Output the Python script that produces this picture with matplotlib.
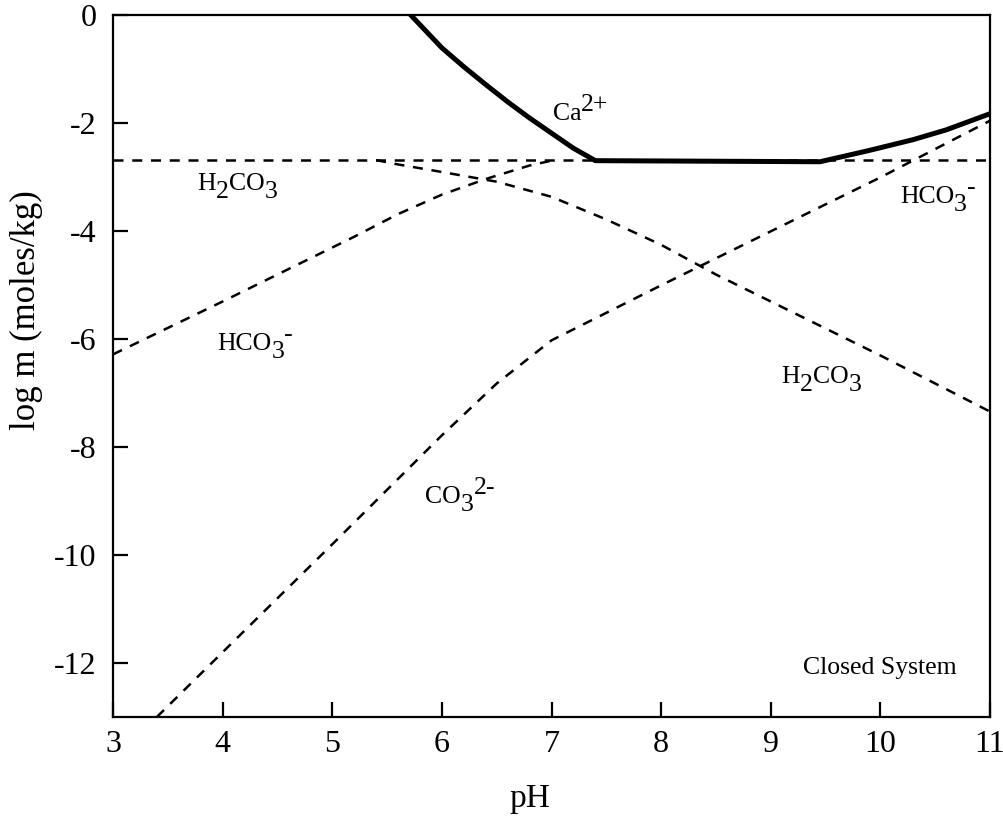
import matplotlib
matplotlib.use("Agg")
import matplotlib.pyplot as plt

plt.rcParams['font.family'] = ['Liberation Serif', 'DejaVu Serif']

# ---- data ----
ph_total = [3.0, 11.0]
total_c = [-2.68, -2.68]

ph_ca = [5.72, 6.0, 6.2, 6.4, 6.6, 6.8, 7.0, 7.2, 7.4, 9.45, 9.9, 10.3, 10.6, 11.0]
log_ca = [0.0, -0.6, -0.95, -1.28, -1.6, -1.9, -2.18, -2.46, -2.69, -2.71, -2.5, -2.3, -2.12, -1.82]

ph_h2co3 = [5.4, 5.6, 6.0, 6.5, 7.0, 7.5, 8.0, 8.5, 9.0, 9.5, 10.0, 10.5, 11.0]
log_h2co3 = [-2.68, -2.76, -2.9, -3.08, -3.36, -3.78, -4.25, -4.8, -5.3, -5.8, -6.3, -6.82, -7.34]

ph_hco3 = [3.0, 4.0, 4.7, 5.2, 5.6, 6.0, 6.4, 6.8, 7.0]
log_hco3 = [-6.28, -5.3, -4.6, -4.1, -3.68, -3.32, -3.03, -2.78, -2.69]

ph_co3 = [3.4, 4.0, 5.0, 6.0, 6.5, 7.0, 8.0, 9.0, 10.0, 11.0]
log_co3 = [-13.0, -11.8, -9.8, -7.78, -6.82, -6.02, -5.0, -4.0, -3.0, -1.95]

xticks = [3, 4, 5, 6, 7, 8, 9, 10, 11]
yticks = [0, -2, -4, -6, -8, -10, -12]

# labels: (x, y, pieces[(text, shift_px)])
labels = [
    (7.01, -1.94, [("Ca", 0), ("2+", 9)]),
    (3.77, -3.23, [("H", 0), ("2", -8), ("CO", 0), ("3", -8)]),
    (3.95, -6.19, [("HCO", 0), ("3", -8), ("-", 9)]),
    (10.18, -3.47, [("HCO", 0), ("3", -8), ("-", 9)]),
    (9.10, -6.81, [("H", 0), ("2", -8), ("CO", 0), ("3", -8)]),
    (5.85, -9.03, [("CO", 0), ("3", -8), ("2-", 9)]),
    (9.29, -12.21, [("Closed System", 0)]),
]

fig = plt.figure(figsize=(10.04, 8.18), dpi=100)
ax = fig.add_axes([113 / 1004, 1 - 717 / 818, (990 - 113) / 1004, (717 - 15.5) / 818])

dash = (0, (4, 3.5))
dlw = 1.8
ax.plot(ph_total, total_c, color='black', lw=dlw, linestyle=dash)
ax.plot(ph_h2co3, log_h2co3, color='black', lw=dlw, linestyle=dash)
ax.plot(ph_hco3, log_hco3, color='black', lw=dlw, linestyle=dash)
ax.plot(ph_co3, log_co3, color='black', lw=dlw, linestyle=dash)
ax.plot(ph_ca, log_ca, color='black', lw=3.6, solid_joinstyle='round')

ax.set_xlim(3, 11)
ax.set_ylim(-13, 0)
ax.set_xticks(xticks)
ax.set_yticks(yticks)
ax.set_xticklabels([str(v) for v in xticks])
ax.set_yticklabels([str(v) for v in yticks])
for s in ax.spines.values():
    s.set_linewidth(1.6)
ax.tick_params(direction='in', length=11, width=1.6, labelsize=23,
               top=False, right=False)
ax.tick_params(axis='x', pad=9)
ax.tick_params(axis='y', pad=12)

ax.set_xlabel('pH', fontsize=24)
ax.set_ylabel('log m (moles/kg)', fontsize=25)
ax.xaxis.set_label_coords(0.475, -0.095)
ax.yaxis.set_label_coords(-0.080, 0.58)

fs = 18.5
px2pt = 72 / 100
for x, y, pieces in labels:
    first = ax.text(x, y, pieces[0][0], fontsize=fs, ha='left', va='baseline')
    prev = first
    prev_shift = pieces[0][1]
    for txt, shift in pieces[1:]:
        prev = ax.annotate(txt, xy=(1, 0), xycoords=prev,
                           xytext=(0, (shift - prev_shift) * px2pt),
                           textcoords='offset points',
                           fontsize=fs, ha='left', va='bottom')
        prev_shift = shift

fig.savefig('out.png', dpi=100)
